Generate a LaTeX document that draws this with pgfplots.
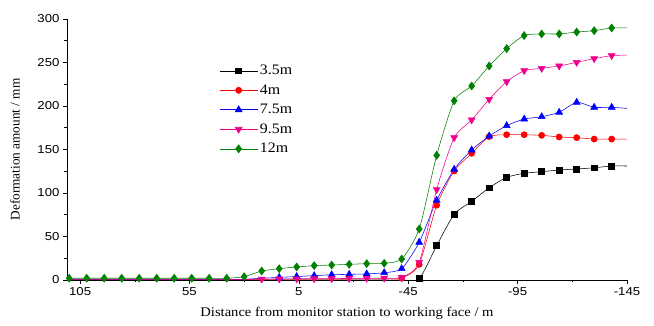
\documentclass[border=0pt]{standalone}
\usepackage{pgfplots}
\pgfplotsset{compat=1.18}
\usepackage{fontspec}
\setmainfont{Liberation Serif}
\newfontfamily\widserif[FakeStretch=1.1]{Liberation Serif}
\newfontfamily\tickfont[FakeStretch=1.15]{Liberation Sans}
\definecolor{dgreen}{RGB}{0,128,0}
\begin{document}
\begin{tikzpicture}
\begin{axis}[
  name=ax,
  scale only axis,
  width=560bp, height=261bp,
  x dir=reverse,
  xmin=-145, xmax=111,
  ymin=0, ymax=300,
  axis x line*=bottom, axis y line*=left,
  axis line style={line width=0.8pt},
  xtick={105,55,5,-45,-95,-145},
  ytick={0,50,100,150,200,250,300},
  minor x tick num=1, minor y tick num=1,
  tick align=outside,
  major tick length=4bp, minor tick length=2.5bp,
  tick style={black, line width=0.6pt},
  ticklabel style={font=\tickfont\fontsize{11.5}{12}\selectfont},
  /pgf/number format/assume math mode=true,
  xlabel={Distance from monitor station to working face / m},
  ylabel={Deformation amount / mm},
  xlabel style={font=\widserif\fontsize{13.3}{15}\selectfont, at={(axis description cs:0.5,-0.126)}, anchor=center},
  ylabel style={font=\fontsize{13.3}{15}\selectfont, at={(axis description cs:-0.093,0.5)}, anchor=center},
  legend style={at={(0.27,0.835)}, anchor=north west, draw=none, fill=none,
    font=\widserif\fontsize{14.5}{16}\selectfont, row sep=4.5bp, inner sep=1bp},
  legend cell align=left,
  legend image code/.code={\draw[mark indices={2}] plot coordinates {(0bp,0bp)(19bp,0bp)(38bp,0bp)};},
  every axis plot/.append style={line width=0.55pt, smooth, tension=0.4},
]
\addplot[black, mark=square*, mark size=3pt, mark options={solid}, mark indices={21,...,33}] coordinates {
(110,0)(102,0)(94,0)(86,0)(78,0)(70,0)(62,0)(54,0)(46,0)(38,0)(30,0)(22,0)(14,0)(6,0)(-2,0)(-10,0)(-18,0)(-26,0)(-34,0)(-42,0)
(-50,1.5)(-58,39.5)(-66,75.5)(-74,90.4)(-82,106)(-90,118)(-98,122.6)(-106,124.5)(-114,126.4)(-122,127.6)(-130,129)(-138,131)(-146,131)};
\addlegendentry{3.5m}
\addplot[red, mark=*, mark size=3.1pt, mark indices={20,...,33}] coordinates {
(110,0.5)(102,0.5)(94,0.5)(86,0.5)(78,0.5)(70,0.5)(62,0.5)(54,0.5)(46,0.5)(38,0.5)(30,0.5)(22,0.8)(14,1)(6,1)(-2,1)(-10,1)(-18,1.2)(-26,1.3)(-34,1.5)(-42,2)
(-50,18)(-58,86)(-66,125.3)(-74,145.6)(-82,164.8)(-90,167)(-98,167)(-106,166.3)(-114,164.4)(-122,163.6)(-130,162)(-138,162)(-146,162)};
\addlegendentry{4m}
\addplot[blue, mark=triangle*, mark size=4pt, mark indices={13,...,33}] coordinates {
(110,0.5)(102,0.5)(94,0.5)(86,0.5)(78,0.5)(70,0.5)(62,0.5)(54,0.5)(46,0.5)(38,0.5)(30,0.8)(22,2)(14,3)(6,4)(-2,5)(-10,6)(-18,6.5)(-26,7)(-34,8.4)(-42,13)
(-50,43.3)(-58,91.6)(-66,127.2)(-74,149.4)(-82,165.5)(-90,177.4)(-98,185)(-106,187.7)(-114,192.7)(-122,204.2)(-130,198.5)(-138,198.5)(-146,197)};
\addlegendentry{7.5m}
\addplot[magenta, mark=triangle*, mark size=4pt, mark options={rotate=180}, mark indices={12,...,33}] coordinates {
(110,0.5)(102,0.5)(94,0.5)(86,0.5)(78,0.5)(70,0.5)(62,0.5)(54,0.5)(46,0.5)(38,0.5)(30,0.8)(22,1)(14,1.2)(6,1.4)(-2,1.5)(-10,1.6)(-18,1.8)(-26,2)(-34,2.2)(-42,3)
(-50,20.3)(-58,104)(-66,163.6)(-74,184)(-82,207.7)(-90,228)(-98,240.6)(-106,243.3)(-114,246)(-122,250.2)(-130,254.4)(-138,257.9)(-146,258.6)};
\addlegendentry{9.5m}
\addplot[dgreen, mark=diamond*, mark size=4pt] coordinates {
(110,2)(102,2)(94,2)(86,2)(78,2)(70,2)(62,2)(54,2)(46,2)(38,2)(30,3.8)(22,10.3)(14,13)(6,15)(-2,16.5)(-10,17.2)(-18,18)(-26,18.8)(-34,19.2)(-42,24.1)
(-50,58.6)(-58,143.3)(-66,206)(-74,223)(-82,246)(-90,266)(-98,281)(-106,282.8)(-114,282.8)(-122,285)(-130,286.6)(-138,289.7)(-146,289.7)};
\addlegendentry{12m}
\end{axis}
\pgfresetboundingbox
\path[use as bounding box] ([shift={(-67bp,-46bp)}]ax.south west) rectangle ([shift={(27bp,19bp)}]ax.north east);
\end{tikzpicture}
\end{document}
